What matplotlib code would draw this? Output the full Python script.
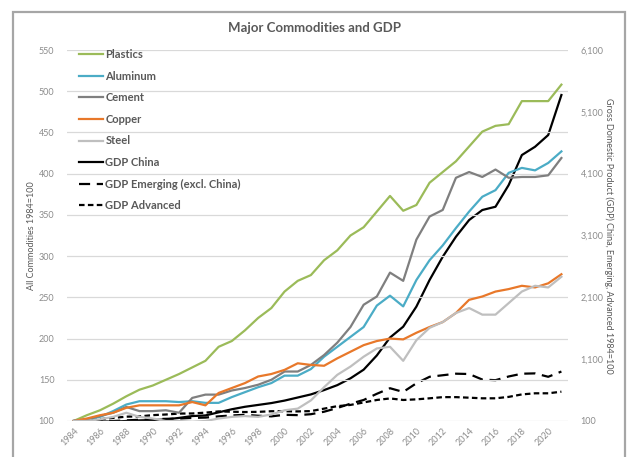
import matplotlib.pyplot as plt
from matplotlib.patches import Rectangle
from matplotlib.ticker import FuncFormatter

plt.rcParams["font.family"] = ["Lato", "DejaVu Sans"]

years = list(range(1984, 2022))

# commodity indices, left axis (1984=100)
plastics = [100, 107, 113, 121, 130, 138, 143, 150, 157, 165, 173, 190, 197, 210, 225, 237,
            257, 270, 277, 295, 307, 325, 335, 354, 373, 355, 362, 389, 402, 415, 433, 451,
            458, 460, 488, 488, 488, 508]
aluminum = [100, 102, 105, 112, 120, 124, 124, 124, 123, 124, 122, 122, 129, 135, 141, 146,
            155, 155, 163, 178, 190, 202, 214, 240, 252, 239, 271, 295, 313, 334, 354, 372,
            380, 401, 407, 404, 413, 427]
cement = [100, 102, 106, 110, 117, 112, 112, 113, 110, 128, 132, 132, 137, 140, 144, 150,
          160, 160, 168, 180, 195, 214, 241, 251, 280, 270, 320, 348, 356, 395, 402, 396,
          405, 395, 396, 396, 398, 419]
copper = [100, 103, 107, 110, 116, 119, 119, 119, 119, 123, 119, 134, 140, 146, 154, 157,
          162, 170, 168, 167, 176, 184, 192, 197, 200, 199, 207, 214, 220, 231, 247, 251,
          257, 260, 264, 262, 267, 278]
steel = [100, 100, 102, 105, 110, 105, 103, 100, 100, 99, 100, 103, 105, 106, 105, 108,
         113, 115, 125, 141, 156, 166, 178, 188, 190, 173, 198, 213, 220, 231, 237, 229,
         229, 243, 257, 264, 262, 275]

# GDP indices, right axis (1984=100)
gdp_china = [100, 98, 95, 90, 100, 110, 115, 125, 150, 180, 190, 240, 290, 330, 360, 390,
             430, 480, 530, 600, 680, 790, 930, 1160, 1450, 1625, 1950, 2380, 2757, 3080,
             3350, 3512, 3565, 3916, 4401, 4535, 4725, 5372]
gdp_emerging = [100, 100, 95, 100, 110, 120, 130, 135, 140, 150, 155, 175, 190, 200, 185,
                175, 200, 195, 210, 250, 310, 380, 440, 540, 630, 570, 710, 815, 840, 865,
                860, 770, 760, 820, 865, 870, 815, 900]
gdp_advanced = [100, 105, 130, 150, 170, 175, 195, 205, 220, 222, 235, 255, 250, 245, 248,
                258, 258, 255, 260, 300, 340, 360, 400, 440, 465, 440, 450, 467, 486, 486,
                477, 467, 467, 490, 530, 548, 548, 574]

left_ticks = list(range(100, 551, 50))
right_ticks = list(range(100, 6101, 1000))
year_ticks = list(range(1984, 2021, 2))

TEXT = "#595959"
TICK = "#8c8c8c"

fig = plt.figure(figsize=(6.3, 4.57), dpi=100)
ax = fig.add_axes([67 / 630, 1 - 421 / 457, 501 / 630, 371 / 457])
ax2 = ax.twinx()

# chart area border like the spreadsheet original
fig.add_artist(Rectangle((13 / 630, -0.05), 612 / 630, 1.05 - 12 / 457,
                         transform=fig.transFigure, fill=False,
                         edgecolor="#a6a6a6", linewidth=1.6))

series = [
    ("Plastics", plastics, "#9bbb59"),
    ("Aluminum", aluminum, "#4bacc6"),
    ("Cement", cement, "#7f7f7f"),
    ("Copper", copper, "#e8782a"),
    ("Steel", steel, "#bfbfbf"),
]
handles = []
for name, values, color in series:
    (line,) = ax.plot(years, values, color=color, linewidth=1.6, label=name)
    handles.append(line)

(h_china,) = ax2.plot(years, gdp_china, color="black", linewidth=1.6, label="GDP China")
(h_emer,) = ax2.plot(years, gdp_emerging, color="black", linewidth=1.6,
                     dashes=(5, 3), label="GDP Emerging (excl. China)")
(h_adv,) = ax2.plot(years, gdp_advanced, color="black", linewidth=1.6,
                    dashes=(2.5, 1.5), label="GDP Advanced")
handles += [h_china, h_emer, h_adv]

ax.set_xlim(1983.5, 2021.5)
ax.set_ylim(100, 550)
ax.set_yticks(left_ticks)
ax2.set_ylim(100, 6100)
ax2.set_yticks(right_ticks)
ax2.yaxis.set_major_formatter(FuncFormatter(lambda v, _: f"{int(v):,}"))

ax.set_xticks(year_ticks)
ax.set_xticklabels([str(y) for y in year_ticks], rotation=45, ha="right",
                   va="top", rotation_mode="anchor")
ax.grid(axis="y", color="#d9d9d9", linewidth=0.9)
ax.set_axisbelow(True)

for a in (ax, ax2):
    for side in a.spines:
        a.spines[side].set_visible(False)
    a.tick_params(length=0, labelsize=6.5, colors=TICK)
ax.tick_params(axis="y", pad=9)
ax2.tick_params(axis="y", pad=9)
ax.tick_params(axis="x", pad=4)
ax.set_zorder(ax2.get_zorder() + 1)
ax.patch.set_visible(False)

ax.set_ylabel("All Commodities 1984=100", fontsize=6.5, color=TEXT, labelpad=2)
ax2.set_ylabel("Gross Domestic Product (GDP) China, Emerging, Advanced 1984=100",
               fontsize=6.5, color=TEXT, rotation=270, labelpad=7)

fig.text(0.5, 1 - 28 / 457, "Major Commodities and GDP", ha="center", va="center",
         fontsize=9.5, fontweight="bold", color=TEXT)

leg = ax.legend(handles=handles, loc="upper left", bbox_to_anchor=(0.01, 1.02),
                frameon=False, fontsize=8, labelspacing=0.95, handlelength=2.2,
                handletextpad=0.2, borderaxespad=0.2)
for txt in leg.get_texts():
    txt.set_color(TEXT)
    txt.set_fontweight("bold")

fig.savefig("out.png", dpi=100)
